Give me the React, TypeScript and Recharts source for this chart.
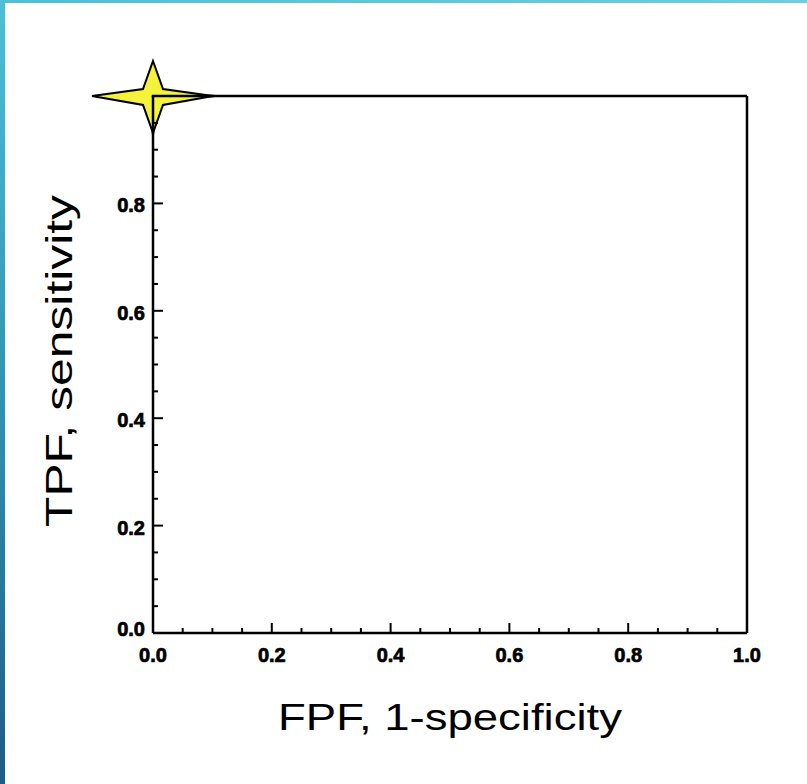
import React from "react";
import { ScatterChart, Scatter, XAxis, YAxis, Label } from "recharts";

const points = [{ fpf: 0, tpf: 1 }];
const allTicks = [0, 0.05, 0.1, 0.15, 0.2, 0.25, 0.3, 0.35, 0.4, 0.45, 0.5, 0.55, 0.6, 0.65, 0.7, 0.75, 0.8, 0.85, 0.9, 0.95, 1.0];
const xLabels = ["0.0", "0.2", "0.4", "0.6", "0.8", "1.0"];
const yLabels = ["0.0", "0.2", "0.4", "0.6", "0.8"];
const xTitle = "FPF, 1-specificity";
const yTitle = "TPF, sensitivity";

const W = 807;
const H = 784;
const MAJOR = 10;
const MINOR = 5;
const TICK_FONT = "'Liberation Sans', Arial, sans-serif";

const isMajor = (v: number) => Math.abs(v / 0.2 - Math.round(v / 0.2)) < 1e-6;
const fmt = (v: number) => v.toFixed(1);

const tickTextProps = {
  fontFamily: TICK_FONT,
  fontWeight: "bold" as const,
  fontSize: 20,
  fill: "#000",
  stroke: "#000",
  strokeWidth: 0.7,
};

const BottomTick = (p: any) => {
  const v = p.payload.value;
  const maj = isMajor(v);
  const label = fmt(v);
  return (
    <g>
      <line x1={p.x} y1={p.y} x2={p.x} y2={p.y - (maj ? MAJOR : MINOR)} stroke="#000" strokeWidth={2} />
      {maj && xLabels.includes(label) ? (
        <text x={p.x} y={p.y + 29} textAnchor="middle" {...tickTextProps}>
          {label}
        </text>
      ) : null}
    </g>
  );
};

const TopTick = (p: any) => {
  const v = p.payload.value;
  const maj = isMajor(v);
  return <line x1={p.x} y1={p.y} x2={p.x} y2={p.y + (maj ? MAJOR : MINOR)} stroke="#000" strokeWidth={2} />;
};

const LeftTick = (p: any) => {
  const v = p.payload.value;
  const maj = isMajor(v);
  const label = fmt(v);
  return (
    <g>
      <line x1={p.x} y1={p.y} x2={p.x + (maj ? MAJOR : MINOR)} y2={p.y} stroke="#000" strokeWidth={2} />
      {maj && yLabels.includes(label) ? (
        <text x={p.x - 8} y={p.y + (v === 0 ? 3 : 9)} textAnchor="end" {...tickTextProps}>
          {label}
        </text>
      ) : null}
    </g>
  );
};

const RightTick = (p: any) => {
  const v = p.payload.value;
  const maj = isMajor(v);
  return <line x1={p.x} y1={p.y} x2={p.x - (maj ? MAJOR : MINOR)} y2={p.y} stroke="#000" strokeWidth={2} />;
};

const Star = (p: any) => {
  const { cx, cy } = p;
  const pts = [
    [0, -35],
    [10, -7],
    [60, 0],
    [10, 9],
    [0, 37],
    [-10, 9],
    [-61, 0],
    [-10, -7],
  ]
    .map(([dx, dy]) => `${cx + dx},${cy + dy}`)
    .join(" ");
  return (
    <g>
      <polygon points={pts} fill="#f4f23a" stroke="#000" strokeWidth={2} strokeLinejoin="miter" />
      {/* frame lines re-drawn above the marker, as in the original plot */}
      <line x1={cx - 1.25} y1={cy} x2={cx + 61} y2={cy} stroke="#000" strokeWidth={2.5} />
      <line x1={cx} y1={cy} x2={cx} y2={cy + 38} stroke="#000" strokeWidth={2.5} />
    </g>
  );
};

const axisLine = { stroke: "#000", strokeWidth: 2.5 };

export default function App() {
  return (
    <div style={{ position: "absolute", left: 0, top: 0, width: W, height: H, background: "#fff", overflow: "hidden" }}>
      <div
        style={{
          position: "absolute",
          left: 0,
          top: 0,
          width: W,
          height: 3,
          background: "linear-gradient(to right, #4bc0d7, #6ccfe0)",
        }}
      />
      <div
        style={{
          position: "absolute",
          left: 0,
          top: 0,
          width: 5,
          height: H,
          background: "linear-gradient(to bottom, #4bc0d7, #2e8fb0 55%, #1d5c86)",
        }}
      />
      <div style={{ position: "absolute", left: 0, top: 0 }}>
        <ScatterChart width={W} height={H} margin={{ top: 95, right: 59, bottom: 150, left: 152 }}>
          <Scatter data={points} dataKey="tpf" shape={<Star />} isAnimationActive={false} />
          <XAxis
            xAxisId={0}
            dataKey="fpf"
            type="number"
            domain={[0, 1]}
            ticks={allTicks}
            interval={0}
            height={1}
            tickSize={0}
            tickMargin={0}
            tickLine={false}
            axisLine={axisLine}
            tick={<BottomTick />}
          >
            <Label
              content={() => (
                <text
                  x={450}
                  y={730}
                  textAnchor="middle"
                  fontFamily="'Liberation Sans', Arial, sans-serif"
                  fontSize={36}
                  textLength={344}
                  lengthAdjust="spacingAndGlyphs"
                  fill="#000"
                >
                  {xTitle}
                </text>
              )}
            />
          </XAxis>
          <XAxis
            xAxisId="top"
            orientation="top"
            type="number"
            domain={[0, 1]}
            ticks={allTicks}
            interval={0}
            height={1}
            tickSize={0}
            tickMargin={0}
            tickLine={false}
            axisLine={axisLine}
            tick={<TopTick />}
          />
          <YAxis
            yAxisId={0}
            dataKey="tpf"
            type="number"
            domain={[0, 1]}
            ticks={allTicks}
            interval={0}
            width={1}
            tickSize={0}
            tickMargin={0}
            tickLine={false}
            axisLine={axisLine}
            tick={<LeftTick />}
          >
            <Label
              content={() => (
                <text
                  x={72}
                  y={361}
                  transform="rotate(-90 72 361)"
                  textAnchor="middle"
                  fontFamily="'Liberation Sans', Arial, sans-serif"
                  fontSize={36}
                  textLength={332}
                  lengthAdjust="spacingAndGlyphs"
                  fill="#000"
                >
                  {yTitle}
                </text>
              )}
            />
          </YAxis>
          <YAxis
            yAxisId="right"
            orientation="right"
            type="number"
            domain={[0, 1]}
            ticks={allTicks}
            interval={0}
            width={1}
            tickSize={0}
            tickMargin={0}
            tickLine={false}
            axisLine={axisLine}
            tick={<RightTick />}
          />
        </ScatterChart>
      </div>
    </div>
  );
}
